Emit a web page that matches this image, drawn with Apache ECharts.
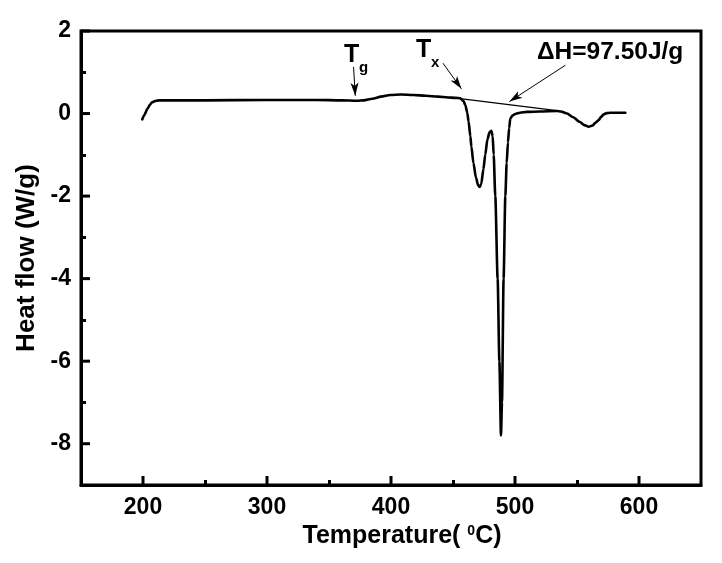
<!DOCTYPE html>
<html>
<head>
<meta charset="utf-8">
<script src="https://cdn.jsdelivr.net/npm/echarts@6/dist/echarts.min.js"></script>
<style>html,body{margin:0;padding:0;background:#fff}#c{width:722px;height:563px}</style>
</head>
<body>
<div id="c"></div>
<script>
// ---- data ----
const temperature = [199.4, 201, 203.7, 205.5, 207.2, 209.5, 212.6, 220, 250, 300, 340, 360, 372.6, 378, 385, 392, 399.4, 408, 418, 428, 438, 446, 452, 455.9, 458.5, 460, 461.5, 462.6, 464, 464.8, 466.5, 468.5, 470.3, 471.5, 472.8, 474.5, 476, 477.8, 479.5, 480.9, 482, 482.8, 484.1, 486, 487.4, 488.7, 489.5, 490.8, 492.2, 493.3, 494.3, 495.3, 496.2, 498, 500.2, 504, 509.7, 520, 533.9, 537, 542, 547, 552, 556, 559.4, 562.5, 565, 567.4, 569.5, 571.5, 574, 576.8, 582, 589];
const heatFlow    = [-0.14, -0.04, 0.12, 0.21, 0.27, 0.30, 0.32, 0.32, 0.32, 0.33, 0.33, 0.32, 0.31, 0.32, 0.36, 0.41, 0.45, 0.46, 0.45, 0.43, 0.41, 0.39, 0.38, 0.37, 0.30, 0.20, 0.02, -0.20, -0.55, -0.80, -1.20, -1.55, -1.74, -1.78, -1.70, -1.35, -1.00, -0.62, -0.45, -0.42, -0.55, -1.00, -2.00, -4.00, -6.00, -7.80, -7.00, -4.00, -2.00, -1.20, -0.70, -0.35, -0.12, -0.05, -0.01, 0.02, 0.04, 0.05, 0.06, 0.05, 0.00, -0.09, -0.20, -0.28, -0.32, -0.29, -0.22, -0.16, -0.08, -0.02, 0.01, 0.02, 0.02, 0.02];
const baselineT = [455.9, 533.9];
const baselineH = [0.36, 0.07];
const xTickValues = [200, 300, 400, 500, 600];
const xMinorTicks = [250, 350, 450, 550];
const yTickValues = [2, 0, -2, -4, -6, -8];
const yMinorTicks = [1, -1, -3, -5, -7];

const curve = temperature.map((t, i) => [t, heatFlow[i]]);
const baseline = baselineT.map((t, i) => [t, baselineH[i]]);

const FONT = '"Liberation Sans", Arial, sans-serif';
const X_MIN = 150, X_MAX = 650, Y_MIN = -9, Y_MAX = 2;
const chart = echarts.init(document.getElementById('c'), null, {renderer: 'canvas'});

function tickAxis(min, max, pos, values, len) {
  return {
    type: 'value', min: min, max: max, position: pos,
    axisLine: {show: false, onZero: false},
    axisTick: {show: true, inside: true, length: len, customValues: values.slice(), lineStyle: {color: '#000', width: 3}},
    axisLabel: {show: false}, splitLine: {show: false}
  };
}

const mainX = {
  type: 'value', min: X_MIN, max: X_MAX, position: 'bottom',
  axisLine: {show: true, onZero: false, lineStyle: {color: '#000', width: 3}},
  axisTick: {show: false},
  axisLabel: {show: true, customValues: xTickValues.slice(), margin: 11, color: '#000', fontSize: 23, fontWeight: 'bold', fontFamily: FONT},
  splitLine: {show: false},
  name: 'Temperature( {sup|0}C)', nameLocation: 'middle', nameGap: 35,
  nameTextStyle: {color: '#000', fontSize: 25, fontWeight: 'bold', fontFamily: FONT, padding: [0, 0, 0, 22],
    rich: {sup: {fontSize: 14, fontWeight: 'bold', fontFamily: FONT, color: '#000', verticalAlign: 'top', padding: [0, 0, 6, 0]}}}
};
const mainY = {
  type: 'value', min: Y_MIN, max: Y_MAX, position: 'left',
  axisLine: {show: true, onZero: false, lineStyle: {color: '#000', width: 3}},
  axisTick: {show: false},
  axisLabel: {show: true, customValues: yTickValues.slice(), margin: 10, color: '#000', fontSize: 23, fontWeight: 'bold', fontFamily: FONT},
  splitLine: {show: false},
  name: 'Heat flow (W/g)', nameLocation: 'middle', nameGap: 41, nameRotate: 90,
  nameTextStyle: {color: '#000', fontSize: 26, fontWeight: 'bold', fontFamily: FONT}
};

chart.setOption({
  animation: false,
  backgroundColor: '#fff',
  grid: {left: 81, right: 21, top: 31, bottom: 78, show: true, borderColor: '#000', borderWidth: 3, backgroundColor: 'transparent'},
  xAxis: [mainX, tickAxis(X_MIN, X_MAX, 'bottom', xMinorTicks, 5)],
  yAxis: [mainY, tickAxis(Y_MIN, Y_MAX, 'left', yMinorTicks, 5)],
  series: [
    {
      type: 'line', data: curve, xAxisIndex: 0, yAxisIndex: 0,
      showSymbol: false, symbol: 'none', smooth: 0.25, smoothMonotone: 'x',
      lineStyle: {color: '#000', width: 2.6, join: 'round', cap: 'round'}, z: 3
    },
    {
      type: 'line', data: baseline, xAxisIndex: 0, yAxisIndex: 0,
      showSymbol: false, symbol: 'none',
      lineStyle: {color: '#000', width: 1.2}, z: 2,
      markLine: {
        silent: true, symbol: ['none', 'arrow'], symbolSize: [6, 13],
        label: {show: false},
        lineStyle: {color: '#000', width: 1, type: 'solid'},
        data: [
          [{coord: [369.8, 1.13]}, {coord: [371.2, 0.43]}],
          [{coord: [441.9, 1.22]}, {coord: [456.8, 0.6]}],
          [{coord: [540.6, 1.17]}, {coord: [495.5, 0.29]}]
        ]
      }
    }
  ],
  graphic: [
    {id: 'tgT', type: 'text', left: 344, top: 42.5, style: {text: 'T', fontSize: 25, fontWeight: 'bold', fontFamily: FONT, fill: '#000'}},
    {id: 'tgS', type: 'text', left: 359, top: 60, style: {text: 'g', fontSize: 15, fontWeight: 'bold', fontFamily: FONT, fill: '#000'}},
    {id: 'txT', type: 'text', left: 416, top: 37.5, style: {text: 'T', fontSize: 25, fontWeight: 'bold', fontFamily: FONT, fill: '#000'}},
    {id: 'txS', type: 'text', left: 431, top: 55.5, style: {text: 'x', fontSize: 15, fontWeight: 'bold', fontFamily: FONT, fill: '#000'}},
    {id: 'dH', type: 'text', left: 537, top: 40, style: {text: '\u0394H=97.50J/g', fontSize: 24.5, fontWeight: 'bold', fontFamily: FONT, fill: '#000'}}
  ]
});

// major ticks (inward, 9px) placed through the axes' own scales
const axisBottom = chart.convertToPixel({yAxisIndex: 0}, Y_MIN);
const axisLeft = chart.convertToPixel({xAxisIndex: 0}, X_MIN);
const tickEls = [];
xTickValues.forEach((v, i) => {
  const px = chart.convertToPixel({xAxisIndex: 0}, v);
  tickEls.push({id: 'xt' + i, type: 'line', z: 5, silent: true,
    shape: {x1: px, y1: axisBottom, x2: px, y2: axisBottom - 9},
    style: {stroke: '#000', lineWidth: 3}});
});
yTickValues.forEach((v, i) => {
  const py = chart.convertToPixel({yAxisIndex: 0}, v);
  tickEls.push({id: 'yt' + i, type: 'line', z: 5, silent: true,
    shape: {x1: axisLeft, y1: py, x2: axisLeft + 9, y2: py},
    style: {stroke: '#000', lineWidth: 3}});
});
chart.setOption({graphic: tickEls});
</script>
</body>
</html>
